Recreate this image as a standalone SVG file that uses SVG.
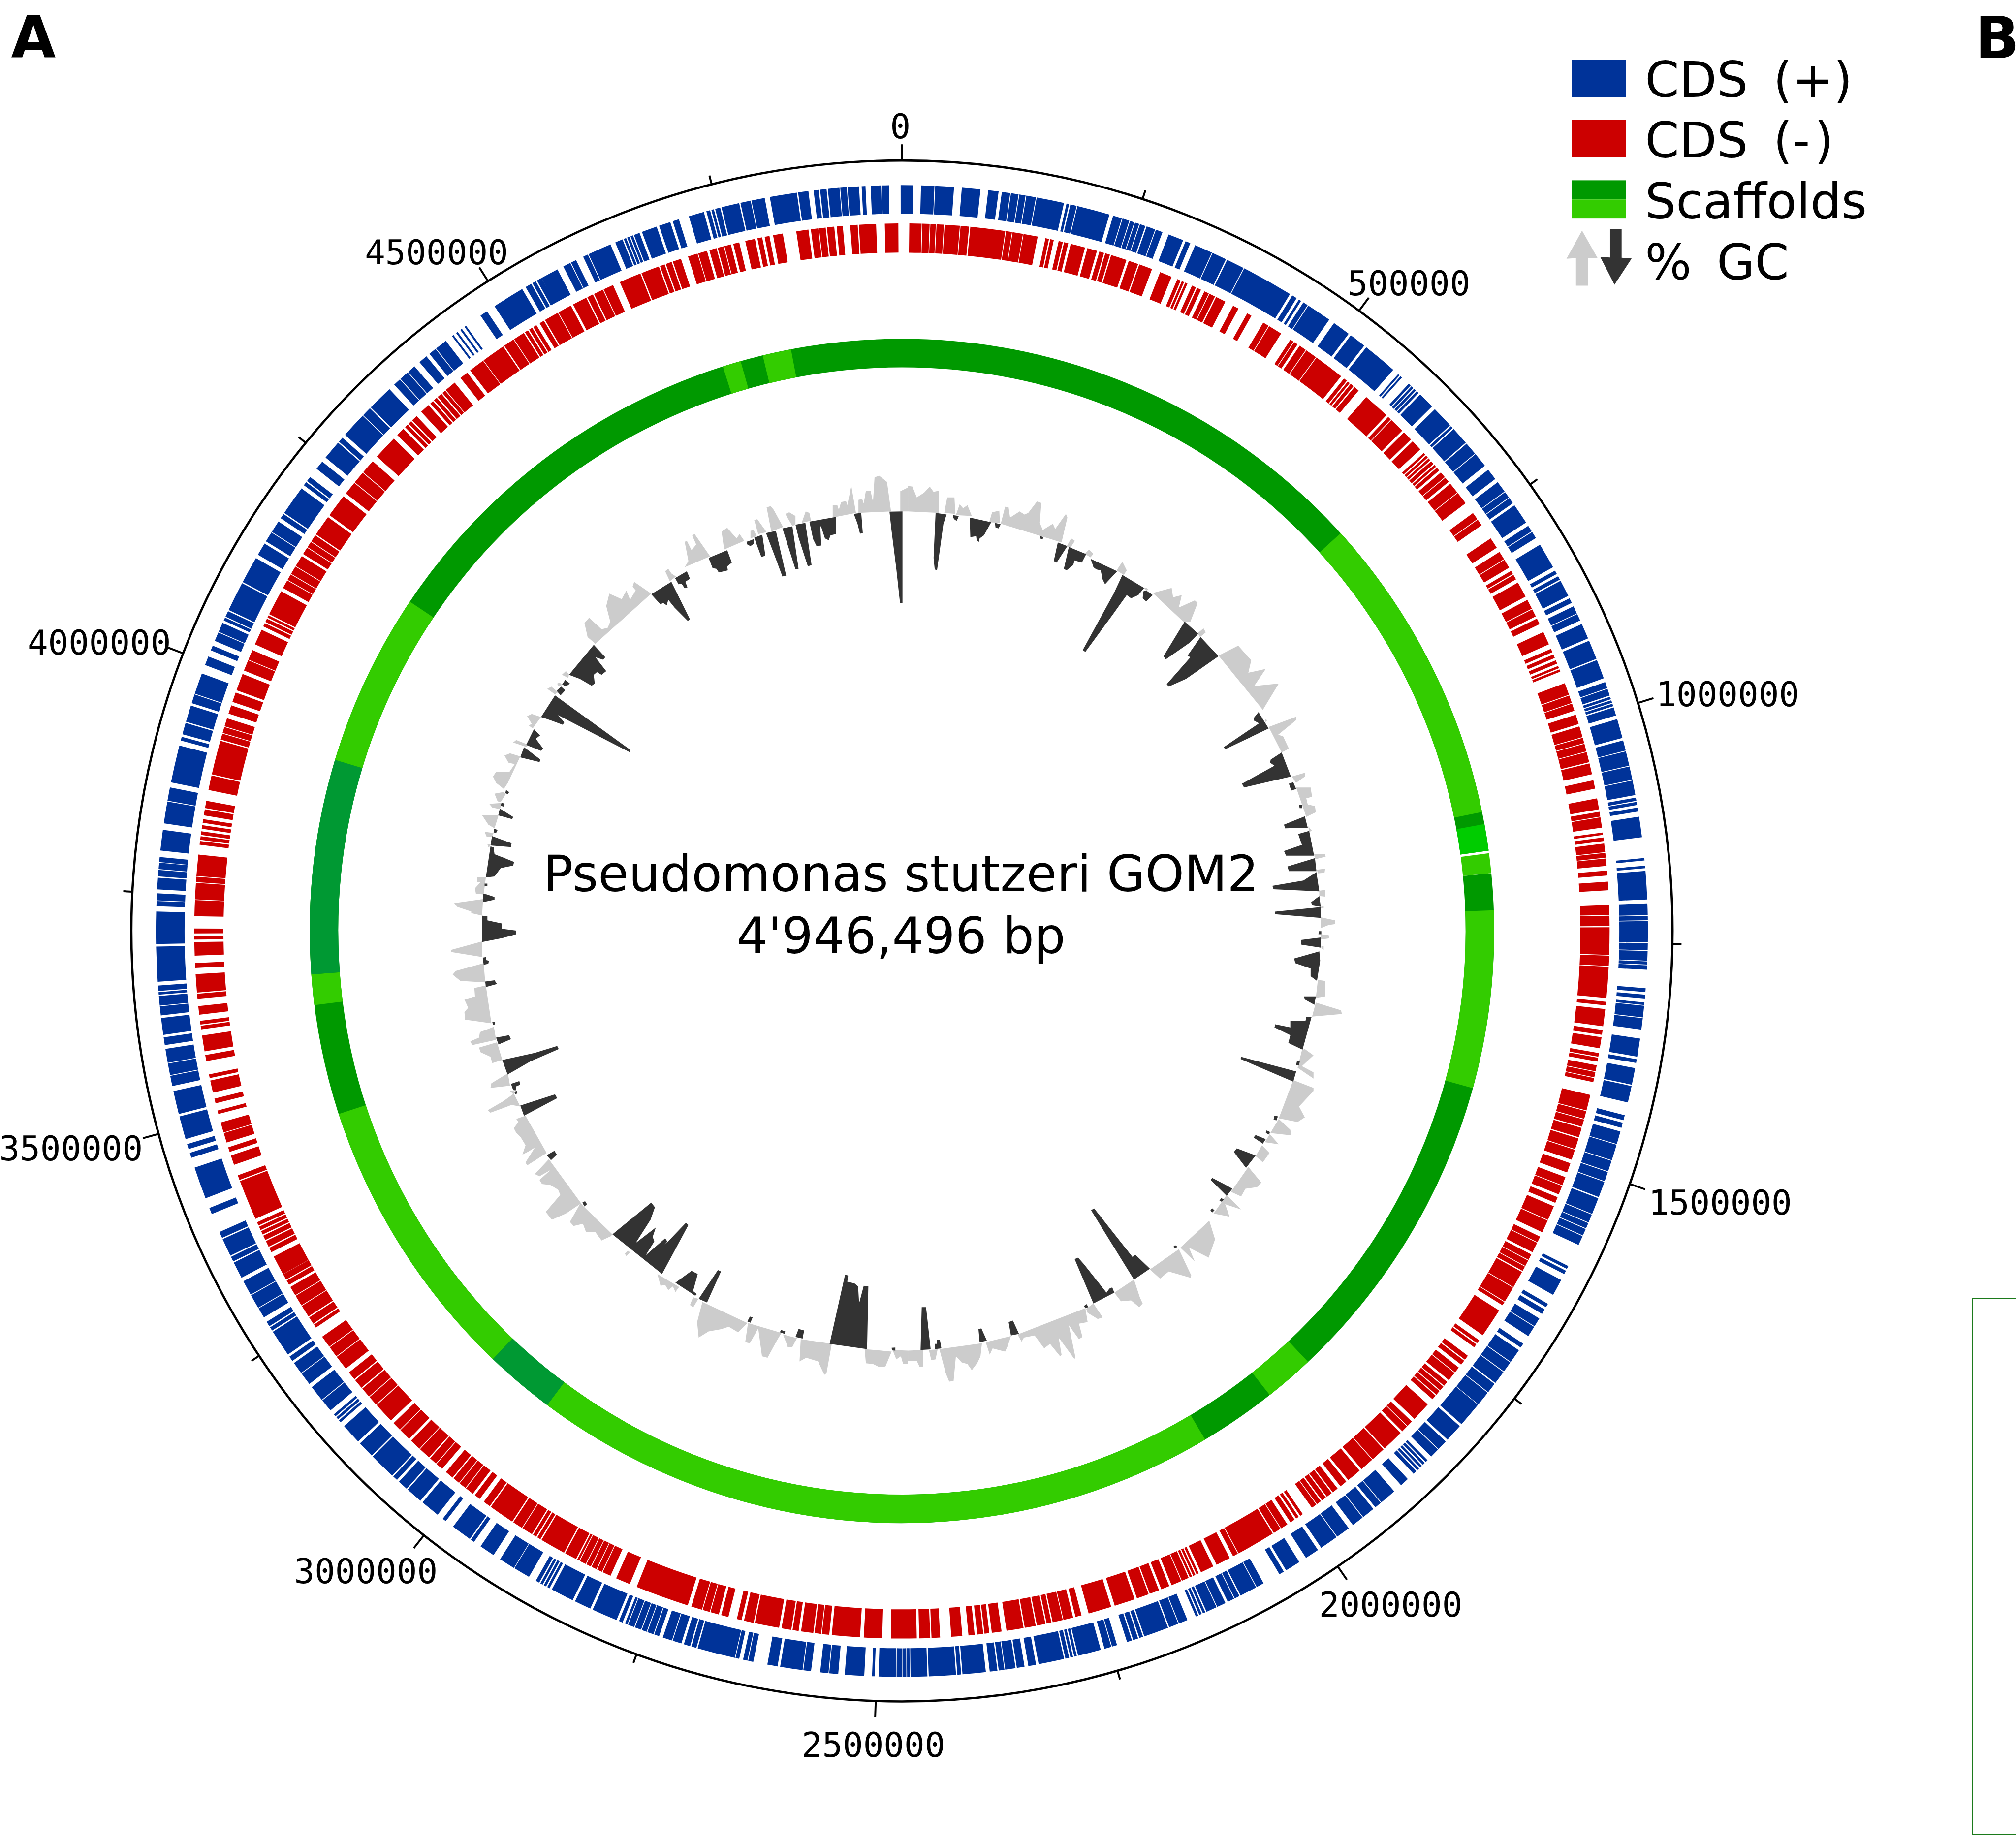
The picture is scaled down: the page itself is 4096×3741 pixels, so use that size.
<svg xmlns="http://www.w3.org/2000/svg" width="4096" height="3741" viewBox="0 0 4096 3741">
<style>
.p{fill:none;stroke:#003399;stroke-width:88}
.m{fill:none;stroke:#cc0000;stroke-width:90}
.s{fill:none;stroke-width:88}
.dk{stroke:#009900}.lt{stroke:#33cc00}.br{stroke:#00cc00}.tl{stroke:#009933}
.gl{fill:#cccccc}.gd{fill:#333333}
.tick{stroke:#000;stroke-width:6}
.num{font-family:"DejaVu Sans Mono",monospace;font-size:105px;text-anchor:middle;fill:#000}
.lg{font-family:"DejaVu Sans",sans-serif;font-size:151px;fill:#000;word-spacing:30px}
.ttl{font-family:"DejaVu Sans",sans-serif;font-size:153px;text-anchor:middle;fill:#000}
.pn{font-family:"DejaVu Sans",sans-serif;font-weight:bold;font-size:178px;fill:#000}
</style>
<rect width="4096" height="3741" fill="#fff"/>
<g transform="scale(0.65894)">
<g id="map-rings" transform="translate(2781 2871) rotate(-90)">
<circle id="backbone" r="2376" fill="none" stroke="#000" stroke-width="7"/>
<g id="ticks">
<line class="tick" x1="2376" x2="2426" transform="rotate(0)"/><line class="tick" x1="2376" x2="2404" transform="rotate(18.195)"/><line class="tick" x1="2376" x2="2426" transform="rotate(36.39)"/><line class="tick" x1="2376" x2="2404" transform="rotate(54.585)"/><line class="tick" x1="2376" x2="2426" transform="rotate(72.78)"/><line class="tick" x1="2376" x2="2404" transform="rotate(90.975)"/><line class="tick" x1="2376" x2="2426" transform="rotate(109.17)"/><line class="tick" x1="2376" x2="2404" transform="rotate(127.365)"/><line class="tick" x1="2376" x2="2426" transform="rotate(145.56)"/><line class="tick" x1="2376" x2="2404" transform="rotate(163.755)"/><line class="tick" x1="2376" x2="2426" transform="rotate(181.95)"/><line class="tick" x1="2376" x2="2404" transform="rotate(200.145)"/><line class="tick" x1="2376" x2="2426" transform="rotate(218.34)"/><line class="tick" x1="2376" x2="2404" transform="rotate(236.535)"/><line class="tick" x1="2376" x2="2426" transform="rotate(254.73)"/><line class="tick" x1="2376" x2="2404" transform="rotate(272.925)"/><line class="tick" x1="2376" x2="2426" transform="rotate(291.12)"/><line class="tick" x1="2376" x2="2404" transform="rotate(309.315)"/><line class="tick" x1="2376" x2="2426" transform="rotate(327.51)"/><line class="tick" x1="2376" x2="2404" transform="rotate(345.705)"/>
</g>
<g id="cds-plus">
<circle class="p" r="2256" pathLength="360" transform="rotate(359.9)" stroke-dasharray=".95,.62,1.03,.06,1.45,.6,1.44,.6,.8,.25,.65,.06,.59,.06,.49,.06,.74,.06,2.14,.2,.2,.1,.5,.06,2.54,.3,.7,.06,.54,.06,.34,.06,.34,.06,.44,.1,.7,.06,.54,.5,1.2,.2,.4,.4,1.4,.06,1.14,.1,1.4,.06,4.04,.2,.4,.2,.2,.2,.4,.06,1.94,360"/>
<circle class="p" r="2256" pathLength="360" transform="rotate(35.4)" stroke-dasharray="1.4,.2,1.3,.2,2.7,.5,.15,.1,.15,.7,.2,.08,.2,.08,.2,.08,.2,.16,1.3,.3,1.7,.1,.2,.1,1.4,.1,1,.06,1.14,.4,.9,360"/>
<circle class="p" r="2256" pathLength="360" transform="rotate(53)" stroke-dasharray=".9,.06,.5,.06,.48,.2,1.6,.3,.5,.06,.54,.6,2,.3,.3,.2,.3,.1,1.3,.2,.4,.3,.6,.06,.54,.3,1.2,.2,1.5,.1,1.5,360"/>
<circle class="p" r="2256" pathLength="360" transform="rotate(70.5)" stroke-dasharray=".5,.06,.54,.1,.2,.08,.2,.08,.2,.1,.64,.3,1.5,.2,.8,.06,1.14,.06,1.04,.06,1.14,.2,.25,.08,.25,.2,.3,.4,1.6,1.6,.2,.4,.2,.2,2.2,.3,.9,.06,.34,.06,1.64,.06,.54,.06,.74,.06,.24,.06,.34,360"/>
<circle class="p" r="2256" pathLength="360" transform="rotate(94.4)" stroke-dasharray=".3,.2,.3,.3,.2,.06,.9,.06,.88,.7,1.4,.2,.3,.4,1.3,.1,1.3,1,.4,.2,.4,.3,1,.06,1.24,.06,.84,.06,.74,.06,1.24,360"/>
<circle class="p" r="2256" pathLength="360" transform="rotate(111)" stroke-dasharray="1.3,.06,.64,.06,.44,.06,.54,.06,.74,1.8,.25,.15,.3,.5,1.3,.8,.3,.2,.4,.4,.7,.06,.84,.7,.35,.25,1.1,.06,.84,.06,1.04,.1,.8,.06,1.14,.04,1.96,.2,1.4,.2,.8,.06,.74,.4,.2,.1,.2,.1,.2,.1,.2,.1,.3,.6,.7,.7,1.3,.06,.54,.2,1,.06,.94,.4,1.1,.06,1.44,.3,1.1,.6,1.2,.2,.4,360"/>
<circle class="p" r="2256" pathLength="360" transform="rotate(151)" stroke-dasharray=".6,.06,1.34,.1,.4,.06,.54,.2,.7,.06,.84,.1,.2,.1,.2,.1,.2,.7,.7,.06,.74,.1,1.94,.1,.3,.1,.4,.1,.4,.8,.4,.06,.54,.3,1.8,.1,.2,.1,.2,.1,.3,.1,2,.2,.6,.3,.6,.1,.8,.06,.44,.1,.6,.3,1.8,.1,.3,.1,2.1,.1,1.3,360"/>
<circle class="p" r="2256" pathLength="360" transform="rotate(179.4)" stroke-dasharray=".2,.06,.3,.06,.4,.06,1.32,.3,.2,.6,1.5,.5,.7,.06,.64,.7,.6,.06,1.74,.2,.8,1.1,.4,.06,.34,.3,.3,.05,2.95,.1,.4,.1,.5,.2,.7,.06,.74,360"/>
<circle class="p" r="2256" pathLength="360" transform="rotate(199)" stroke-dasharray=".4,.06,.5,.06,.4,.06,.5,.06,.5,.06,.2,.2,.3,.2,2,.2,1.3,.2,1.8,.2,.2,.1,.2,.1,.2,.1,.3,.6,1.3,.05,1.25,.6,1.2,.6,.3,.1,1.6,.7,.3,.5,1.5,.2,1.3,.1,.8,.2,.4,.1,2.1,.1,1.3,.2,1.6,.4,.2,.1,.2,.1,.2,360"/>
<circle class="p" r="2256" pathLength="360" transform="rotate(230)" stroke-dasharray="1,.06,1.24,.3,1,.06,.94,.2,.4,.2,2.1,.1,.3,.1,.4,.4,.8,.06,1.1,.06,1.18,.3,1.3,.1,.4,.1,1.4,.1,.5,1.5,.5,.8,2.5,.8,.4,.3,.4,.4,1.8,.2,1.8,360"/>
<circle class="p" r="2256" pathLength="360" transform="rotate(258)" stroke-dasharray=".8,.06,.9,.06,1.08,.3,.6,.2,1.3,.2,.7,.06,.74,.1,.2,.08,.42,.3,2.7,.2,2.5,.4,.4,.06,.54,.3,.9,.1,.5,.06,.5,.04,.4,.5,1.6,.5,1.7,.06,1.04,360"/>
<circle class="p" r="2256" pathLength="360" transform="rotate(281.5)" stroke-dasharray="2.9,.4,.3,.2,.9,.1,1.3,.2,.7,.06,1.64,.7,.7,.5,.4,.4,.7,.06,.74,.2,.25,.08,.47,.1,2.3,.1,2.1,.3,1,.2,.8,.06,.94,.3,.4,.1,2.3,.3,.3,.1,.4,.8,.7,.4,1.5,.1,.4,360"/>
<circle class="p" r="2256" pathLength="360" transform="rotate(311.7)" stroke-dasharray="2,.06,.74,.1,2,.5,.6,.06,.74,.06,.64,.5,.7,.3,.6,.06,.94,.6,.15,.25,.15,.25,.15,.25,.15,1.35,.6,.7,2.5,.3,.5,.1,.3,.1,.4,0,1.4,.5,.6,.06,.44,.6,.4,.06,1.84,.4,.6,.1,.2,.08,.2,.08,.2,.08,.46,.2,1.2,.2,.9,.2,.5,360"/>
<circle class="p" r="2256" pathLength="360" transform="rotate(343.4)" stroke-dasharray="1.2,.2,.3,.1,.2,.1,.4,.1,1.4,.1,.8,.06,1.04,.4,2.1,.1,.8,.4,.4,.1,.5,.1,.9,.06,.5,.06,.88,.2,.3,.4,.8,.06,.54,360"/>
</g>
<g id="cds-minus">
<circle class="m" r="2137" pathLength="360" transform="rotate(.6)" stroke-dasharray="1,.06,.59,.06,.44,.06,.59,.06,1.24,.06,.69,.1,2.85,.06,.49,.05,.85,.05,1.16,.64,.3,.1,.3,.4,.35,.1,.35,.2,1.2,.2,.8,.2,.4,.1,.4,.1,1.3,.2,.8,.1,1.1,.7,1,.5,.3,.1,.2,.1,.2,.4,.35,.1,.35,.3,.4,.06,.5,.1,.84,.7,.5,.8,.4,1.1,.5,.06,1.14,360"/>
<circle class="m" r="2137" pathLength="360" transform="rotate(33.3)" stroke-dasharray=".3,.06,.34,.2,.6,.06,.94,.06,2.5,.3,.3,.1,.2,.1,.3,.1,.44,.8,2.2,.2,.3,.06,1.24,.2,.8,.2,.9,.4,.2,.1,.2,.1,.2,.1,.3,.1,.2,.1,.3,.2,.5,.06,.44,.2,.9,.06,1.04,1,.6,.06,.54,1.3,.9,.4,.7,.06,.74,.3,.3,.08,.42,.3,1.3,.3,.8,.06,.64,.2,.5,.7,1.1,.4,.3,.2,.3,.2,.3,.2,.2,.1,.2,360"/>
<circle class="m" r="2137" pathLength="360" transform="rotate(69.5)" stroke-dasharray="1,.06,.64,.06,.6,.34,.8,.2,.9,.06,.44,.06,.64,.06,.84,.1,.9,.5,.7,.8,.9,.2,.4,.06,.84,.4,.2,.2,.3,.2,.7,.06,.4,.06,.6,.38,.4,.5,.7,1.2,.8,.06,.84,.1,2.24,.06,.84,.06,2.54,.3,.3,.3,1.4,.3,.4,.2,.9,.4,.3,.08,.32,.3,.5,.06,.44,.06,.34,360"/>
<circle class="m" r="2137" pathLength="360" transform="rotate(103.4)" stroke-dasharray="1.3,.06,.64,.06,.6,.1,.8,.1,.9,.06,.84,.3,.8,.4,.7,.06,.74,360"/>
<circle class="m" r="2137" pathLength="360" transform="rotate(112.1)" stroke-dasharray=".5,.3,1.2,.06,1.04,.4,.5,.06,.84,.2,.5,.06,.5,.06,.4,.1,1.4,.06,1.3,.06,.3,.5,2.4,.5,.3,.1,.3,.86,.4,.1,.4,.3,.5,.06,.74,.2,.4,.08,.4,.08,.4,.08,.4,.56,1.6,.3,.5,.06,.54,.2,1.8,.1,1.2,.06,1.14,.2,1.2,.2,.6,360"/>
<circle class="m" r="2137" pathLength="360" transform="rotate(142)" stroke-dasharray=".5,.1,.5,.1,.4,.1,.4,.06,.44,.9,.25,.15,.25,.15,.4,.3,.6,.06,.64,.1,3.2,.06,.44,.3,1.2,.3,1.1,.2,.2,.1,.2,.1,.2,.1,.6,.06,.84,.2,.7,.2,.8,.1,1,.2,1.7,.3,1.9,.6,.5,.2,.8,.06,.84,.1,.4,.1,.7,.1,.9,.1,1.4,.4,.8,.2,.4,.1,.5,.2,.5,.5,.9,.9,.7,.1,.9,360"/>
<circle class="m" r="2137" pathLength="360" transform="rotate(178.8)" stroke-dasharray="2.1,.7,1.5,.3,2.3,.2,.6,.06,.54,.1,1,.2,.5,.1,.8,.2,2,.1,.8,.2,.4,.7,.6,.2,.7,.06,.6,.06,.9,.3,4.4,.6,1.2,.5,.7,.06,.44,.06,.44,.06,.4,.06,.54,.06,.18,.1,1,.1,2.1,.1,.3,.1,.3,.1,.9,.06,.84,.1,2.1,.1,.6,.4,.5,.2,.7,.06,.6,.06,.58,.1,.7,.4,.6,.06,.64,.1,1,.06,.94,.2,1,.06,.74,.3,1.7,360"/>
<circle class="m" r="2137" pathLength="360" transform="rotate(228)" stroke-dasharray=".8,.06,.84,.1,.8,.1,.7,.4,1.2,.06,.9,.06,1,.88,.3,.1,.6,.1,1,.06,.9,.06,.78,.2,.4,.08,.5,.02,1.6,.4,.4,.1,.5,.1,.4,.1,.3,.1,.3,.1,.3,.3,3.3,.1,.4,.9,.8,.3,.4,.4,.8,.06,.84,.7,.3,.6,.4,.5,1,.2,.3,1.1,.5,.3,1.3,.5,.3,.1,.3,.5,.7,.6,.4,.1,1.5,.5,.4,.6,1.1,.2,.3,.2,.4,1,1.3,.06,1.34,.06,.44,.06,1.74,.8,.3,.1,.3,.1,.3,.2,.3,.2,.3,.3,.5,.1,.6,360"/>
<circle class="m" r="2137" pathLength="360" transform="rotate(281.5)" stroke-dasharray="1.2,.1,2.8,.1,.5,.06,.5,.06,.68,.4,.7,.3,.8,.2,1.4,.3,.9,.06,.84,.5,1.3,.3,.3,.1,.3,.1,.2,.1,2.1,.3,.7,.06,.5,.06,.68,.06,.94,.2,.6,.06,.5,.06,.58,.1,1.7,.2,1.9,.3,1.1,.06,1,.06,1.18,.5,2,.4,.7,.2,.3,.1,.3,.1,.5,.5,.8,.2,.3,.1,.3,.1,.4,.1,.3,.06,.94,.6,.7,.3,1.3,.05,1.95,.1,.9,.06,.94,.1,.3,.1,.3,.1,.3,.3,.4,.1,1.2,.06,1.14,.2,1.2,.1,.5,.1,.8,.06,.84,.6,1.8,.1,1.5,.1,.4,.1,.5,.1,.7,.6,.8,.06,.74,.2,.6,.1,.5,.06,.54,.2,.5,.5,.8,.2,.4,.2,.4,.3,.8,1.1,1,.2,.6,.06,.54,.1,.6,.2,.5,.6,.6,.1,1.4,.7,1.1,360"/>
</g>
<g id="scaffolds">
<circle class="s dk" r="1782" pathLength="360" stroke-dasharray="82.2,360"/>
<circle class="s dk" r="1782" pathLength="360" transform="rotate(84.4)" stroke-dasharray="275.6,360"/>
<circle class="s lt" r="1782" pathLength="360" transform="rotate(47.8)" stroke-dasharray="30.6,360"/>
<circle class="s br" r="1782" pathLength="360" transform="rotate(79.6)" stroke-dasharray="2.6,360"/>
<circle class="s lt" r="1782" pathLength="360" transform="rotate(82.45)" stroke-dasharray="1.95,360"/>
<circle class="s lt" r="1782" pathLength="360" transform="rotate(88)" stroke-dasharray="17.4,360"/>
<circle class="s lt" r="1782" pathLength="360" transform="rotate(136.7)" stroke-dasharray="4.9,360"/>
<circle class="s lt" r="1782" pathLength="360" transform="rotate(149.2)" stroke-dasharray="67.6,360"/>
<circle class="s tl" r="1782" pathLength="360" transform="rotate(216.8)" stroke-dasharray="6.9,360"/>
<circle class="s lt" r="1782" pathLength="360" transform="rotate(223.7)" stroke-dasharray="28.3,360"/>
<circle class="s lt" r="1782" pathLength="360" transform="rotate(262.8)" stroke-dasharray="3,360"/>
<circle class="s tl" r="1782" pathLength="360" transform="rotate(265.8)" stroke-dasharray="21,360"/>
<circle class="s lt" r="1782" pathLength="360" transform="rotate(286.8)" stroke-dasharray="17,360"/>
<circle class="s lt" r="1782" pathLength="360" transform="rotate(342.4)" stroke-dasharray="1.8,360"/>
<circle class="s lt" r="1782" pathLength="360" transform="rotate(346.4)" stroke-dasharray="2.8,360"/>
</g>
</g>
<g id="gc-top-left" transform="translate(1300 1400) scale(.9566)">
<path class="gl" d="M1325 205 1325 165 1340 165 1345 180 1352 155 1368 152 1372 165 1385 103 1400 190ZM1408 190 1408 148 1420 145 1425 160 1432 118 1447 118 1455 155 1460 75 1475 70 1500 90 1513 185ZM1543 185 1543 120 1568 108 1568 185ZM1127 250 1112 172 1125 168 1135 180 1165 235ZM1195 232 1172 193 1185 188 1205 200 1205 228ZM1225 222 1238 185 1250 190 1255 215ZM1085 258 1072 213 1082 210 1112 252ZM1060 272 1060 248 1070 245 1080 265ZM975 308 967 250 985 238 1015 272 1025 258 1040 280ZM930 330 880 258 872 262 885 292 870 310 855 280 848 283 860 345 848 365ZM785 378 795 370 805 385 820 395 800 410ZM740 450 685 412 680 428 690 440 672 470 660 440 645 468 605 450 595 490 608 540 600 560 580 565 540 528 525 545 535 590 560 612ZM473 722 452 712 465 700 475 710ZM440 748 437 740 445 737 453 745ZM430 775 405 757 418 750 440 768ZM358 885 345 875 355 870 340 845 355 838 385 848ZM340 945 295 930 305 922 338 935ZM318 975 285 965 267 972 280 995 300 1000 283 1025 240 1025 230 1040 240 1060 265 1080 278 1060ZM262 1090 235 1095 245 1120 255 1122 272 1095ZM260 1125 218 1128 228 1140 252 1145ZM248 1165 195 1165 205 1180 215 1195 235 1207ZM232 1222 203 1218 210 1235 226 1235ZM222 1258 212 1258 215 1268 220 1265ZM207 1365 180 1365 178 1380 190 1380 172 1400 175 1418 200 1420ZM198 1435 105 1448 115 1460 160 1475 160 1480 195 1488Z"/>
<path class="gd" d="M1508 186 1550 185 1550 480 1542 480 1530 370 1515 250ZM1393 193 1417 190 1422 255 1413 257 1405 225ZM1250 218 1335 203 1335 258 1318 262 1312 278 1300 272 1288 235 1285 232 1288 295 1273 297 1262 275ZM1205 228 1237 222 1257 358 1245 362 1228 310 1215 270ZM1163 240 1195 233 1215 370 1205 372ZM1110 255 1142 248 1175 392 1163 395 1135 320ZM1072 270 1098 260 1108 328 1095 332ZM1047 283 1070 275 1070 290 1060 297 1050 292ZM925 335 985 310 1000 350 985 362 987 375 958 382 950 370 938 368ZM817 400 855 378 865 402 850 412 857 430 848 433 838 418 828 420ZM740 452 805 412 865 533 858 538 815 495 795 470 790 488 778 480 770 485ZM475 712 555 615 592 655 585 663 560 655 595 700 580 712 565 703 555 712 558 740 548 747 510 725ZM463 728 478 740 465 750 453 743ZM435 763 450 750 463 762 448 778ZM385 848 430 778 670 952 672 962 440 842 460 865 455 873 420 860ZM362 887 382 907 368 918 392 950 385 957 337 938ZM330 945 383 985 380 993 318 978ZM272 1083 282 1090 278 1097 270 1093ZM258 1124 268 1128 263 1137 255 1133ZM252 1143 295 1170 292 1177 247 1165ZM233 1208 245 1212 240 1222 232 1220ZM227 1232 290 1255 288 1267 222 1262ZM222 1265 232 1268 235 1290 298 1315 295 1327 255 1335 235 1362 207 1365ZM203 1385 212 1385 212 1392 203 1392ZM198 1418 210 1420 235 1428 235 1437 198 1445Z"/>
</g>
<g id="gc-top-right" transform="translate(2800 1400) scale(.8929 .9566)">
<path class="gl" d="M0 185 0 103 15 105 30 140 55 125 75 105 88 122 107 118 107 190ZM125 190 135 140 160 140 163 193ZM165 197 178 162 190 175 205 165 220 200ZM280 220 290 188 315 183 317 222ZM320 225 335 170 347 172 352 205 385 185 402 195 415 190 445 153 460 158 455 222 465 245 500 225 508 242 545 193 550 205 530 285ZM548 297 563 272 576 280 560 303ZM610 322 625 308 640 322 630 333ZM720 375 740 347 755 375 745 390ZM815 433 822 430 830 437 822 441ZM845 448 910 432 915 462 945 455 935 495 990 472 1000 480 975 540 950 540ZM1000 578 1020 562 1028 575 1008 590ZM1072 650 1140 618 1185 665 1175 705 1235 693 1195 748 1280 740 1225 825ZM1232 855 1240 858 1235 865ZM1245 880 1340 847 1340 858 1278 905 1295 910 1315 950 1290 962ZM1325 1040 1372 1027 1370 1040 1340 1060ZM1340 1075 1390 1075 1395 1105 1375 1110 1380 1130 1405 1135 1408 1155 1375 1170ZM1382 1200 1395 1215 1385 1218ZM1402 1290 1440 1290 1442 1298 1405 1307ZM1412 1340 1440 1337 1438 1350 1415 1352ZM1420 1408 1440 1405 1440 1427 1420 1425ZM1425 1460 1435 1458 1435 1465 1425 1465Z"/>
<path class="gd" d="M95 190 133 195 122 225 100 375 92 372 88 335ZM155 197 175 200 172 207 168 215 162 213 155 205ZM213 205 287 220 262 262 247 272 245 283 237 280 235 265 215 268ZM300 222 320 227 312 240 302 237ZM457 265 468 268 464 275 457 273ZM517 285 550 297 513 350 503 345ZM555 300 615 323 600 350 575 343 570 358 547 375 538 370ZM630 338 722 378 695 405 680 420 672 405 665 375 650 372 640 365 635 350ZM740 390 815 432 795 455 770 465 755 455 705 520 612 638 603 632 710 450ZM812 443 822 440 845 455 822 475 810 465ZM955 540 1002 580 970 610 890 662 882 652ZM1010 590 1072 652 960 725 900 750 893 742 975 655 965 650ZM1210 832 1245 885 1095 952 1090 945 1212 868 1195 860 1193 852ZM1290 962 1322 1040 1160 1075 1153 1063 1265 1005 1250 995 1252 985ZM1315 1063 1330 1058 1340 1080 1323 1085ZM1350 1130 1360 1132 1360 1142 1352 1142ZM1370 1168 1380 1205 1302 1207 1298 1195ZM1385 1215 1402 1295 1305 1295 1298 1280 1360 1260 1347 1225ZM1405 1303 1410 1345 1315 1345 1310 1330ZM1410 1348 1420 1410 1262 1403 1258 1392 1365 1375ZM1420 1425 1425 1460 1395 1455 1392 1445Z"/>
</g>
<g id="gc-bottom-left" transform="translate(1300 2800) scale(.9566)">
<path class="gl" d="M195 108 95 135 95 142 195 158ZM200 178 110 203 100 215 125 235 205 240ZM207 250 170 258 172 285 138 295 150 322 138 335 140 360 175 365 225 372ZM233 383 188 400 185 418 157 430 163 442 240 425ZM243 433 185 450 190 465 222 480 228 500 260 490ZM278 533 225 565 222 580 285 573ZM285 590 297 590 298 600 318 640 290 635 222 660 213 652 265 622 295 600ZM335 670 305 680 312 690 297 710 305 725 320 740 335 765 325 795 345 785 365 772 335 820 340 830 403 790ZM410 810 365 858 380 865 415 845 380 877 388 890 415 893 440 908 447 925 400 980 420 1005 465 985 510 955 478 1012 490 1025 520 1018 530 1045 560 1045 580 1072 610 1058 615 1052 520 960ZM655 1115 665 1105 672 1110 660 1122ZM760 1180 770 1218 785 1215 795 1232 810 1220 818 1238 830 1222ZM875 1255 865 1280 875 1288 892 1260ZM905 1270 888 1335 893 1385 925 1365 965 1358 990 1350 1020 1368 1050 1338ZM1052 1338 1043 1400 1058 1403 1085 1355 1097 1445 1115 1450 1145 1395 1160 1370ZM1165 1375 1180 1415 1195 1415 1210 1387ZM1222 1390 1218 1462 1240 1450 1278 1462 1298 1505 1305 1500 1322 1405ZM1428 1422 1432 1468 1455 1470 1475 1480 1495 1478 1515 1430ZM1518 1425 1530 1455 1545 1445 1552 1470 1568 1470 1568 1427Z"/>
<path class="gd" d="M195 25 212 27 212 40 258 50 258 67 305 73 305 85 260 97 195 110ZM197 160 208 158 208 168 217 170 215 180 200 183ZM205 237 235 233 243 245 207 255ZM228 368 237 368 237 375 230 377ZM240 418 282 410 288 423 248 440ZM260 490 365 467 437 445 442 455 350 495 307 520 277 537ZM288 567 315 558 318 570 305 575 303 588 295 587ZM298 592 307 590 309 598 302 600ZM318 637 430 601 437 613 330 670ZM403 797 428 783 436 795 417 813ZM518 950 527 945 533 955 525 962ZM615 1052 740 950 752 965 738 1005 690 1080 755 1030 745 1060 750 1075 722 1120 785 1065 792 1075 780 1090 852 1015 860 1022 775 1180ZM818 1208 870 1170 890 1180 875 1235 887 1245 882 1250ZM893 1260 955 1167 965 1172 920 1272ZM1050 1333 1058 1317 1067 1320 1060 1337ZM1158 1360 1172 1365 1170 1373 1155 1368ZM1205 1383 1215 1357 1233 1362 1228 1388ZM1315 1405 1365 1182 1375 1185 1372 1205 1395 1210 1407 1220 1410 1275 1425 1218 1440 1220 1436 1422ZM1515 1418 1527 1417 1527 1427 1516 1426Z"/>
</g>
<g id="gc-bottom-right" transform="translate(2800 2800) scale(.8929 .9566)">
<path class="gl" d="M0 1427 0 1460 30 1460 40 1480 52 1478 52 1425ZM72 1425 80 1458 95 1455 102 1423ZM108 1422 130 1500 142 1527 157 1525 165 1445 185 1465 205 1470 220 1490 240 1465 250 1445 255 1403ZM268 1400 282 1440 292 1420 335 1430 345 1410 355 1380ZM378 1375 392 1398 400 1385 437 1378 470 1420 490 1405 525 1445 530 1440 520 1385 575 1455 577 1445 555 1345 590 1390 602 1383 590 1340 620 1335 612 1290ZM615 1292 620 1305 655 1325 672 1320 640 1275ZM712 1240 735 1268 770 1265 798 1287 810 1275 800 1255 780 1198ZM835 1165 870 1195 900 1172 975 1192 978 1185 935 1100ZM940 1095 990 1140 970 1095 1038 1127 1060 1068 1040 1008ZM1055 985 1110 995 1095 955 1150 972 1100 925ZM1115 915 1150 930 1165 905 1205 900 1220 885 1175 835ZM1200 800 1225 820 1248 790 1222 765ZM1232 755 1280 762 1245 725 1322 733 1320 715 1280 680ZM1280 678 1345 690 1370 675 1350 640 1400 590 1400 580 1330 555ZM1345 515 1400 550 1400 530 1360 510 1400 475 1370 455 1360 458ZM1395 350 1498 342 1495 330 1408 305ZM1408 290 1440 285 1440 235 1415 232ZM1427 130 1435 135 1435 122 1427 122ZM1425 102 1455 98 1452 87 1425 85ZM1425 65 1452 55 1475 52 1475 40 1425 30Z"/>
<path class="gd" d="M1425 -3 1267 12 1268 20 1425 32ZM1418 75 1427 75 1427 85 1417 85ZM1425 95 1357 103 1357 118 1425 128ZM1420 140 1333 163 1337 178 1390 195 1390 220 1412 235 1423 170ZM1408 285 1367 285 1370 295 1403 312ZM1393 352 1375 352 1372 365 1320 365 1320 385 1268 375 1265 385 1320 410 1313 435 1362 457ZM1343 492 1353 493 1350 507 1340 507ZM1340 527 1150 480 1148 487 1330 560ZM1265 670 1277 672 1272 685 1262 682ZM1238 717 1250 722 1245 730 1235 725ZM1235 745 1200 732 1193 740 1225 760ZM1200 798 1135 775 1125 787 1167 838ZM1120 905 1095 892 1050 870 1045 877 1100 928ZM1082 935 1090 940 1083 947 1075 943ZM1050 968 1058 975 1050 982 1044 975ZM922 1087 930 1092 922 1098 916 1092ZM835 1163 785 1118 775 1125 642 968 632 975 780 1198ZM640 1275 575 1132 587 1127 607 1148 685 1240 695 1227 705 1223 712 1240ZM607 1283 617 1277 622 1287 612 1290ZM355 1378 347 1335 362 1330 383 1373ZM247 1400 243 1358 253 1355 272 1395ZM92 1422 92 1405 100 1405 100 1393 110 1393 115 1420ZM43 1425 47 1287 62 1287 78 1423Z"/>
</g>
<g id="position-labels">
<text class="num" x="2776" y="426">0</text>
<text class="num" x="4344" y="910">500000</text>
<text class="num" x="5327" y="2178">1000000</text>
<text class="num" x="5304" y="3745">1500000</text>
<text class="num" x="4288" y="4985">2000000</text>
<text class="num" x="2693" y="5418">2500000</text>
<text class="num" x="1128" y="4882">3000000</text>
<text class="num" x="219" y="3578">3500000</text>
<text class="num" x="306" y="2018">4000000</text>
<text class="num" x="1346" y="815">4500000</text>
</g>
<g id="title">
<text class="ttl" x="2778" y="2749">Pseudomonas stutzeri GOM2</text>
<text class="ttl" x="2778" y="2939">4'946,496 bp</text>
</g>
<g id="legend">
<rect x="4847" y="184" width="166" height="115" fill="#003399"/>
<text class="lg" x="5072" y="299">CDS (+)</text>
<rect x="4847" y="370" width="166" height="115" fill="#cc0000"/>
<text class="lg" x="5072" y="486">CDS (-<tspan dx="14">)</tspan></text>
<rect x="4847" y="556" width="166" height="59" fill="#009900"/>
<rect x="4847" y="615" width="166" height="59" fill="#33cc00"/>
<text class="lg" x="5072" y="674">Scaffolds</text>
<polygon class="gl" points="4878,711 4926,796 4896,796 4896,881 4859,881 4859,796 4830,798"/>
<polygon class="gd" points="4964,707 5000,707 5000,795 5031,797 4978,878 4934,792 4964,794"/>
<text class="lg" x="5072" y="862">% GC</text>
</g>
<g id="panel-labels">
<text class="pn" x="34" y="178">A</text>
<text class="pn" x="6090" y="179">B</text>
</g>
<rect id="panel-b-box" x="6081" y="4004" width="300" height="1653" fill="none" stroke="#1c7a1c" stroke-width="3"/>
</g>
</svg>
